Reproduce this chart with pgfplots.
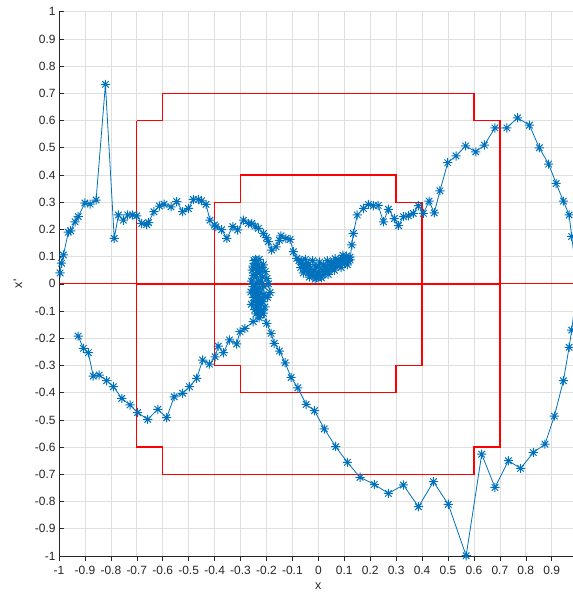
\documentclass[border=0pt]{standalone}
\usepackage{fontspec}
\setmainfont{Liberation Sans}
\usepackage{pgfplots}
\pgfplotsset{compat=1.18}
\usetikzlibrary{calc}

\definecolor{mblue}{RGB}{0,114,189}
\definecolor{axgray}{RGB}{38,38,38}
\definecolor{gridgray}{RGB}{223,223,223}

% eight-spoked asterisk marker
\pgfdeclareplotmark{mstar}{%
  \pgfpathmoveto{\pgfpoint{-\pgfplotmarksize}{0pt}}\pgfpathlineto{\pgfpoint{\pgfplotmarksize}{0pt}}%
  \pgfpathmoveto{\pgfpoint{0pt}{-\pgfplotmarksize}}\pgfpathlineto{\pgfpoint{0pt}{\pgfplotmarksize}}%
  \pgfpathmoveto{\pgfpoint{-0.7071\pgfplotmarksize}{-0.7071\pgfplotmarksize}}\pgfpathlineto{\pgfpoint{0.7071\pgfplotmarksize}{0.7071\pgfplotmarksize}}%
  \pgfpathmoveto{\pgfpoint{-0.7071\pgfplotmarksize}{0.7071\pgfplotmarksize}}\pgfpathlineto{\pgfpoint{0.7071\pgfplotmarksize}{-0.7071\pgfplotmarksize}}%
  \pgfusepathqstroke}

\pgfplotsset{traj/.style={mblue, line width=0.8bp, mark=mstar, mark size=4.6bp,
  mark options={line width=1.0bp}}}

\begin{document}
\begin{tikzpicture}
\begin{axis}[
  name=ax,
  scale only axis,
  width=514bp, height=544.3bp,
  xmin=-1, xmax=0.982, ymin=-1, ymax=1,
  axis x line*=bottom, axis y line*=left,
  axis line style={axgray, line width=0.7bp},
  xtick={-1,-0.9,-0.8,-0.7,-0.6,-0.5,-0.4,-0.3,-0.2,-0.1,0,0.1,0.2,0.3,0.4,0.5,0.6,0.7,0.8,0.9},
  ytick={-1,-0.9,-0.8,-0.7,-0.6,-0.5,-0.4,-0.3,-0.2,-0.1,0,0.1,0.2,0.3,0.4,0.5,0.6,0.7,0.8,0.9,1},
  xtick align=outside, ytick align=inside,
  major tick length=5bp,
  tick style={axgray, line width=0.6bp},
  grid=major,
  grid style={gridgray, line width=0.7bp},
  /pgf/number format/.cd, fixed, precision=1, assume math mode=true,
  /pgfplots/.cd,
  ticklabel style={font=\fontsize{12}{14}\selectfont, text=axgray},
  xticklabel style={anchor=center, yshift=-9bp},
  xlabel={x},
  ylabel={x\textquotesingle},
  label style={font=\fontsize{12.5}{14}\selectfont, text=axgray, inner sep=0pt},
  xlabel style={at={(axis description cs:0.5045,-0.056)}, anchor=center},
  ylabel style={at={(axis description cs:-0.0800,0.5)}, anchor=center},
  clip=true,
]

% reference level and stepped boundaries
\addplot[red, line width=1.3bp] coordinates {(-1,0) (1,0)};
\addplot[red, line width=1.8bp] coordinates {(-0.7,0) (0.7,0)};
\addplot[red, line width=1.3bp] coordinates {
  (-0.7,0.6) (-0.6,0.6) (-0.6,0.7) (0.6,0.7) (0.6,0.6) (0.7,0.6)
  (0.7,-0.6) (0.6,-0.6) (0.6,-0.7) (-0.6,-0.7) (-0.6,-0.6) (-0.7,-0.6) (-0.7,0.6)};
\addplot[red, line width=1.3bp] coordinates {
  (-0.4,0.3) (-0.3,0.3) (-0.3,0.4) (0.3,0.4) (0.3,0.3) (0.4,0.3)
  (0.4,-0.3) (0.3,-0.3) (0.3,-0.4) (-0.3,-0.4) (-0.3,-0.3) (-0.4,-0.3) (-0.4,0.3)};

% upper branch of the trajectory
\addplot[traj] coordinates {
  (-0.996,0.040) (-0.990,0.076) (-0.983,0.106) (-0.964,0.190) (-0.955,0.195)
  (-0.938,0.228) (-0.926,0.247) (-0.900,0.297) (-0.880,0.293) (-0.857,0.308)
  (-0.821,0.733) (-0.787,0.167) (-0.771,0.253) (-0.752,0.234) (-0.735,0.253)
  (-0.717,0.253) (-0.700,0.250) (-0.681,0.222) (-0.662,0.218) (-0.655,0.225)
  (-0.634,0.265) (-0.613,0.286) (-0.595,0.293) (-0.568,0.283) (-0.546,0.302)
  (-0.523,0.265) (-0.501,0.277) (-0.482,0.310) (-0.463,0.310) (-0.450,0.305)
  (-0.433,0.292) (-0.418,0.234) (-0.401,0.216) (-0.395,0.210) (-0.373,0.199)
  (-0.353,0.167) (-0.330,0.210) (-0.311,0.198) (-0.289,0.234) (-0.270,0.222)
  (-0.257,0.222) (-0.244,0.212) (-0.231,0.204) (-0.212,0.185) (-0.200,0.170)
  (-0.193,0.155) (-0.180,0.124) (-0.163,0.136) (-0.150,0.160) (-0.144,0.176)
  (-0.125,0.167) (-0.109,0.163) (-0.096,0.118) (-0.083,0.094)
  (-0.075,0.085) (-0.068,0.060) (-0.060,0.072) (-0.052,0.050) (-0.045,0.068)
  (-0.038,0.040) (-0.030,0.058) (-0.024,0.030) (-0.016,0.048) (-0.008,0.022)
  (0.000,0.045) (0.008,0.028) (0.002,0.065) (0.015,0.050) (0.022,0.035)
  (0.030,0.062) (0.038,0.045) (0.045,0.072) (0.052,0.055) (0.060,0.080)
  (0.068,0.062) (0.076,0.088) (0.084,0.070) (0.092,0.095) (0.100,0.078)
  (0.108,0.102) (0.115,0.085) (0.122,0.098) (0.112,0.070) (0.100,0.090)
  (0.088,0.060) (0.075,0.075) (0.062,0.050) (0.050,0.068) (0.038,0.035)
  (0.025,0.055) (0.012,0.022) (0.000,0.032) (-0.012,0.018) (-0.025,0.042)
  (-0.035,0.025) (-0.045,0.055) (-0.058,0.040) (-0.066,0.085) (-0.050,0.090)
  (-0.038,0.072) (-0.022,0.085) (-0.010,0.062) (0.005,0.080) (0.020,0.070)
  (0.035,0.085) (0.050,0.078) (0.065,0.092) (0.080,0.082) (0.095,0.105)
  (0.110,0.092) (0.122,0.088)
  (0.129,0.143) (0.135,0.185) (0.150,0.253) (0.174,0.277) (0.193,0.292)
  (0.212,0.287) (0.231,0.288) (0.251,0.228) (0.270,0.274) (0.293,0.240)
  (0.309,0.214) (0.328,0.247) (0.347,0.250) (0.366,0.259) (0.386,0.287)
  (0.405,0.259) (0.427,0.304) (0.447,0.261) (0.469,0.342) (0.499,0.445)
  (0.531,0.470) (0.568,0.507) (0.607,0.485) (0.640,0.510) (0.681,0.573)
  (0.727,0.573) (0.768,0.610) (0.814,0.583) (0.852,0.500) (0.888,0.440)
  (0.917,0.369) (0.945,0.304) (0.967,0.253) (0.977,0.174) (0.984,0.120)
  (1.000,0.060)};

% lower branch of the trajectory
\addplot[traj] coordinates {
  (1.000,-0.050) (0.984,-0.115) (0.977,-0.170) (0.967,-0.233) (0.945,-0.356)
  (0.910,-0.486) (0.874,-0.589) (0.829,-0.620) (0.780,-0.678) (0.733,-0.650)
  (0.681,-0.748) (0.630,-0.626) (0.570,-0.999) (0.501,-0.810) (0.444,-0.727)
  (0.386,-0.819) (0.328,-0.739) (0.270,-0.770) (0.216,-0.737) (0.161,-0.711)
  (0.112,-0.656) (0.067,-0.598) (0.023,-0.533) (-0.015,-0.466) (-0.047,-0.443)
  (-0.079,-0.382) (-0.105,-0.344) (-0.128,-0.290) (-0.150,-0.247) (-0.170,-0.219)
  (-0.182,-0.182) (-0.199,-0.145) (-0.212,-0.108)
  (-0.206,-0.085) (-0.215,-0.065) (-0.205,-0.045) (-0.222,-0.030) (-0.210,-0.010)
  (-0.228,0.005) (-0.215,0.025) (-0.235,0.040) (-0.220,0.060) (-0.240,0.075)
  (-0.228,0.090) (-0.248,0.085) (-0.238,0.060) (-0.255,0.050) (-0.245,0.025)
  (-0.258,0.010) (-0.248,-0.010) (-0.260,-0.030) (-0.250,-0.050) (-0.258,-0.075)
  (-0.245,-0.095) (-0.238,-0.070) (-0.232,-0.045) (-0.240,-0.020) (-0.232,0.010)
  (-0.242,0.035) (-0.230,0.055) (-0.212,0.070) (-0.205,0.045) (-0.198,0.020)
  (-0.192,0.000) (-0.186,-0.032) (-0.196,-0.050) (-0.210,-0.040) (-0.222,-0.060)
  (-0.230,-0.080) (-0.240,-0.110) (-0.228,-0.125) (-0.218,-0.095) (-0.225,-0.070)
  (-0.235,-0.050) (-0.248,-0.035) (-0.252,-0.010) (-0.250,0.030) (-0.252,0.065)
  (-0.242,0.090) (-0.232,0.070) (-0.225,0.040) (-0.222,0.010) (-0.228,-0.015)
  (-0.238,-0.040) (-0.242,-0.065) (-0.236,-0.090) (-0.230,-0.105)
  (-0.225,-0.115) (-0.251,-0.139) (-0.283,-0.164) (-0.302,-0.176) (-0.315,-0.221)
  (-0.343,-0.206) (-0.366,-0.253) (-0.386,-0.229) (-0.398,-0.268) (-0.420,-0.295)
  (-0.446,-0.280) (-0.469,-0.347) (-0.497,-0.378) (-0.523,-0.402) (-0.556,-0.415)
  (-0.585,-0.492) (-0.619,-0.461) (-0.658,-0.498) (-0.697,-0.473) (-0.726,-0.445)
  (-0.758,-0.421) (-0.790,-0.378) (-0.816,-0.356) (-0.845,-0.335) (-0.868,-0.339)
  (-0.887,-0.253) (-0.906,-0.237) (-0.926,-0.192)};
\end{axis}
\pgfresetboundingbox
\path[use as bounding box] ($(ax.south west)+(-59bp,-37bp)$) rectangle ($(ax.south west)+(514bp,556bp)$);
\end{tikzpicture}
\end{document}
